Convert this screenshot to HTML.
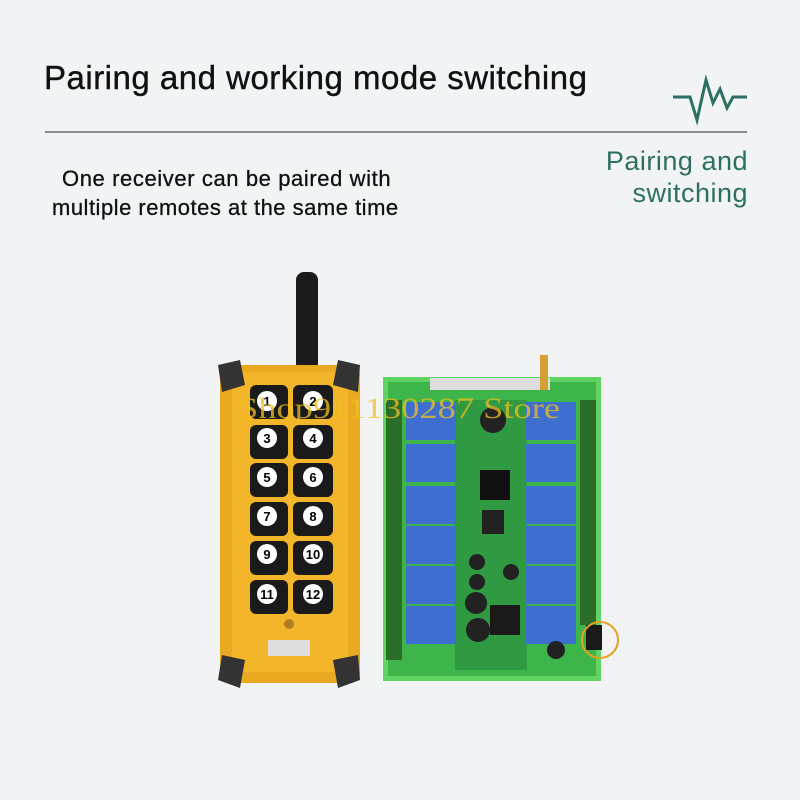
<!DOCTYPE html>
<html><head><meta charset="utf-8"><style>
html,body{margin:0;padding:0;background:#f1f3f5;}
body{width:800px;height:800px;position:relative;overflow:hidden;font-family:"Liberation Sans","DejaVu Sans",sans-serif;}
.t{position:absolute;white-space:nowrap;}
</style></head><body>
<div class="t" style="left:44px;top:59px;font-size:33px;color:#111;letter-spacing:0.5px;font-weight:500;-webkit-text-stroke:0.4px #111">Pairing and working mode switching</div>
<div style="position:absolute;left:45px;top:131px;width:702px;height:2px;background:#8a8f94"></div>
<div class="t" style="left:62px;top:166px;font-size:22px;color:#111;letter-spacing:0.6px;-webkit-text-stroke:0.3px #111">One receiver can be paired with</div>
<div class="t" style="left:52px;top:195px;font-size:22px;color:#111;letter-spacing:0.5px;-webkit-text-stroke:0.3px #111">multiple remotes at the same time</div>
<div class="t" style="left:590px;top:145px;font-size:27px;color:#2e6f63;text-align:right;width:158px;line-height:32px;white-space:normal;letter-spacing:0.5px">Pairing and switching</div>
<svg style="position:absolute;left:0;top:0" width="800" height="800">
<polyline points="673,97 690,97 697,120 706,80 713,103 720,89 727,108 733,97 747,97" fill="none" stroke="#2e6f63" stroke-width="3"/>
<rect x="296" y="272" width="22" height="100" rx="8" fill="#1b1b1b"/>
<rect x="220" y="365" width="140" height="318" rx="10" fill="#e9a920"/>
<rect x="232" y="372" width="116" height="300" rx="6" fill="#f3b52a"/>
<polygon points="218,365 240,360 245,385 222,392" fill="#333"/>
<polygon points="360,365 338,360 333,385 358,392" fill="#333"/>
<polygon points="218,680 240,688 245,660 222,655" fill="#333"/>
<polygon points="360,680 338,688 333,660 358,655" fill="#333"/>
<g fill="#1a1a1a">
<rect x="250" y="385" width="38" height="34" rx="6"/><rect x="293" y="385" width="40" height="34" rx="6"/>
<rect x="250" y="425" width="38" height="34" rx="6"/><rect x="293" y="425" width="40" height="34" rx="6"/>
<rect x="250" y="463" width="38" height="34" rx="6"/><rect x="293" y="463" width="40" height="34" rx="6"/>
<rect x="250" y="502" width="38" height="34" rx="6"/><rect x="293" y="502" width="40" height="34" rx="6"/>
<rect x="250" y="541" width="38" height="34" rx="6"/><rect x="293" y="541" width="40" height="34" rx="6"/>
<rect x="250" y="580" width="38" height="34" rx="6"/><rect x="293" y="580" width="40" height="34" rx="6"/>
</g>
<g fill="#fff"><circle cx="267" cy="401" r="10"/><circle cx="313" cy="401" r="10"/><circle cx="267" cy="438" r="10"/><circle cx="313" cy="438" r="10"/><circle cx="267" cy="477" r="10"/><circle cx="313" cy="477" r="10"/><circle cx="267" cy="516" r="10"/><circle cx="313" cy="516" r="10"/><circle cx="267" cy="554" r="10"/><circle cx="313" cy="554" r="10"/><circle cx="267" cy="594" r="10"/><circle cx="313" cy="594" r="10"/></g>
<g font-size="13" font-weight="bold" text-anchor="middle" fill="#000" font-family="Liberation Sans">
<text x="267" y="406">1</text><text x="313" y="406">2</text><text x="267" y="443">3</text><text x="313" y="443">4</text><text x="267" y="482">5</text><text x="313" y="482">6</text><text x="267" y="521">7</text><text x="313" y="521">8</text><text x="267" y="559">9</text><text x="313" y="559">10</text><text x="267" y="599">11</text><text x="313" y="599">12</text></g>
<circle cx="289" cy="624" r="5" fill="#b07a20"/>
<rect x="268" y="640" width="42" height="16" fill="#ddd"/>
<rect x="383" y="377" width="218" height="304" fill="#5fd463"/>
<rect x="388" y="382" width="208" height="294" fill="#3db54a"/>
<rect x="455" y="400" width="72" height="270" fill="#2f9a42"/>
<rect x="430" y="378" width="120" height="12" fill="#ddd"/>
<rect x="540" y="355" width="8" height="35" fill="#d4a030"/>
<g fill="#2a6e2a"><rect x="386" y="400" width="16" height="260"/><rect x="580" y="400" width="16" height="225"/></g>
<g fill="#3e6fd0">
<rect x="406" y="402" width="50" height="38"/><rect x="406" y="444" width="50" height="38"/><rect x="406" y="486" width="50" height="38"/><rect x="406" y="526" width="50" height="38"/><rect x="406" y="566" width="50" height="38"/><rect x="406" y="606" width="50" height="38"/>
<rect x="526" y="402" width="50" height="38"/><rect x="526" y="444" width="50" height="38"/><rect x="526" y="486" width="50" height="38"/><rect x="526" y="526" width="50" height="38"/><rect x="526" y="566" width="50" height="38"/><rect x="526" y="606" width="50" height="38"/>
</g>
<circle cx="493" cy="420" r="13" fill="#222"/>
<rect x="480" y="470" width="30" height="30" fill="#111"/>
<rect x="482" y="510" width="22" height="24" fill="#222"/>
<circle cx="477" cy="562" r="8" fill="#222"/><circle cx="477" cy="582" r="8" fill="#222"/><circle cx="511" cy="572" r="8" fill="#222"/>
<circle cx="476" cy="603" r="11" fill="#222"/><circle cx="478" cy="630" r="12" fill="#222"/><rect x="490" y="605" width="30" height="30" fill="#1a1a1a"/>
<circle cx="556" cy="650" r="9" fill="#222"/>
<rect x="586" y="625" width="16" height="25" fill="#1a1a1a"/>
<circle cx="600" cy="640" r="18" fill="none" stroke="#e6a020" stroke-width="2"/>
<text x="238" y="418" font-family="Liberation Serif" font-size="30" fill="#f0c020" opacity="0.75" textLength="322" lengthAdjust="spacingAndGlyphs">Shop911130287 Store</text>
</svg>
</body></html>
